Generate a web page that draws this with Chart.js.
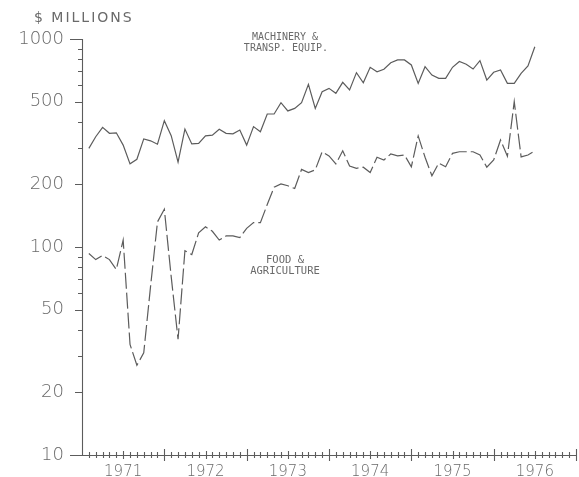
<!DOCTYPE html>
<html>
<head>
<meta charset="utf-8">
<script src="https://cdn.jsdelivr.net/npm/chart.js@4/dist/chart.umd.min.js"></script>
<style>
html,body{margin:0;padding:0;background:#fff;}
#wrap{width:579px;height:477px;position:relative;}
</style>
</head>
<body>
<div id="wrap"><canvas id="c" width="579" height="477"></canvas></div>
<script>
// ---- data ----
const months = [
  '1971-02','1971-03','1971-04','1971-05','1971-06','1971-07','1971-08','1971-09','1971-10','1971-11','1971-12',
  '1972-01','1972-02','1972-03','1972-04','1972-05','1972-06','1972-07','1972-08','1972-09','1972-10','1972-11','1972-12',
  '1973-01','1973-02','1973-03','1973-04','1973-05','1973-06','1973-07','1973-08','1973-09','1973-10','1973-11','1973-12',
  '1974-01','1974-02','1974-03','1974-04','1974-05','1974-06','1974-07','1974-08','1974-09','1974-10','1974-11','1974-12',
  '1975-01','1975-02','1975-03','1975-04','1975-05','1975-06','1975-07','1975-08','1975-09','1975-10','1975-11','1975-12',
  '1976-01','1976-02','1976-03','1976-04','1976-05','1976-06','1976-07'
];
const machinery = [
  298,339,376,352,354,309,251,264,331,324,312,
  405,343,256,369,313,315,342,345,368,352,350,365,
  309,379,358,436,436,494,451,464,494,605,464,558,
  579,548,619,569,689,616,731,696,715,769,793,793,
  750,612,736,671,647,647,731,779,756,717,787,635,
  692,710,612,612,684,742,918
];
const food = [
  93,87,91,87,78,108,34,27,31,65,132,
  152,72,36,96,92,117,125,119,108,113,113,111,
  123,131,131,160,194,201,197,191,236,228,235,287,
  274,251,290,245,239,242,228,270,262,280,274,277,
  243,342,270,220,253,243,282,287,287,287,277,242,
  262,327,273,500,271,277,290
];
const yearLabels = ['1971','1972','1973','1974','1975','1976'];
const yTickValues = [10,20,50,100,200,500,1000];
const yTickLabels = ['10','20','50','100','200','500','1000'];
const unitLabel = '$ MILLIONS';
const machineryLabel = ['MACHINERY &','TRANSP. EQUIP.'];
const foodLabel = ['FOOD &','AGRICULTURE'];

// ---- helpers ----
const firstYear = 1971;
function monthOffset(s){ const p = s.split('-'); return (parseInt(p[0]) - firstYear) * 12 + (parseInt(p[1]) - 1); }
const INK = '#5c5c5c';
const TXT = '#6a6a6a';

const axesPlugin = {
  id: 'plotterAxes',
  afterDraw(chart){
    const ctx = chart.ctx, xs = chart.scales.x, ys = chart.scales.y;
    const left = xs.left, right = xs.right;
    const top = ys.getPixelForValue(1000), bottom = ys.getPixelForValue(10);
    ctx.save();
    ctx.strokeStyle = INK; ctx.lineWidth = 1.1;
    ctx.beginPath();
    ctx.moveTo(left + 0.5, top); ctx.lineTo(left + 0.5, bottom);
    ctx.moveTo(left, bottom + 0.5); ctx.lineTo(right, bottom + 0.5);
    // y ticks
    for (let d = 10; d <= 1000; d *= 10) {
      for (let k = 1; k <= 9; k++) {
        const v = k * d; if (v > 1000) break;
        const py = Math.round(ys.getPixelForValue(v)) + 0.5;
        let len = 4;
        if (yTickValues.includes(v)) len = 7;
        if (v === 1000 || v === 10) len = 12;
        ctx.moveTo(left - len, py); ctx.lineTo(left + 0.5, py);
      }
    }
    // x ticks (monthly)
    for (let m = 1; m <= 72; m++) {
      const px = Math.round(xs.getPixelForValue(m)) + 0.5;
      let h = 3;
      if (m % 12 === 6) h = 4;
      if (m % 12 === 0) h = 6;
      ctx.moveTo(px, bottom - h); ctx.lineTo(px, bottom + h);
    }
    ctx.stroke();

    // texts
    ctx.fillStyle = TXT;
    ctx.textBaseline = 'middle';
    ctx.textAlign = 'left';
    ctx.font = '14px "DejaVu Sans"';
    try { ctx.letterSpacing = '2px'; } catch(e) {}
    ctx.fillText(unitLabel, 34, 18);
    try { ctx.letterSpacing = '0px'; } catch(e) {}
    ctx.textAlign = 'center';
    ctx.font = '10px "DejaVu Sans Mono"';
    ctx.fillText(machineryLabel[0], 285, 37);
    ctx.fillText(machineryLabel[1], 286, 48);
    ctx.font = '10.5px "DejaVu Sans Mono"';
    ctx.fillText(foodLabel[0], 285, 260);
    ctx.fillText(foodLabel[1], 285, 271);
    ctx.restore();
  }
};

new Chart(document.getElementById('c'), {
  type: 'line',
  data: {
    datasets: [
      {
        label: machineryLabel.join(' '),
        data: months.map((m, i) => ({ x: monthOffset(m), y: machinery[i] })),
        borderColor: INK, borderWidth: 1.2, pointRadius: 0, tension: 0, fill: false
      },
      {
        label: foodLabel.join(' '),
        data: months.map((m, i) => ({ x: monthOffset(m), y: food[i] })),
        borderColor: INK, borderWidth: 1.2, pointRadius: 0, tension: 0, fill: false,
        borderDash: [16, 4]
      }
    ]
  },
  options: {
    responsive: false,
    devicePixelRatio: 1,
    animation: false,
    layout: { padding: { top: 39, right: 3, left: 0, bottom: 0 } },
    plugins: { legend: { display: false }, tooltip: { enabled: false } },
    scales: {
      x: {
        type: 'linear', min: 0, max: 72,
        grid: { display: false, drawTicks: false },
        border: { display: false },
        afterBuildTicks: (s) => { s.ticks = yearLabels.map((_, k) => ({ value: 6 + 12 * k })); },
        afterFit: (s) => { s.height = 22; s.paddingLeft = 0; s.paddingRight = 0; },
        ticks: {
          autoSkip: false, maxRotation: 0, padding: 8,
          color: TXT, font: { family: '"DejaVu Sans"', size: 15, weight: '300' },
          callback: (v) => { const k = Math.round((v - 6) / 12); return yearLabels[k] || ''; }
        }
      },
      y: {
        type: 'logarithmic', min: 10, max: 1000, position: 'left',
        grid: { display: false, drawTicks: false },
        border: { display: false },
        afterBuildTicks: (s) => { s.ticks = yTickValues.map(v => ({ value: v })); },
        afterFit: (s) => { s.width = 82; s.paddingTop = 0; s.paddingBottom = 0; },
        ticks: {
          autoSkip: false, padding: 18,
          color: TXT, font: { family: '"DejaVu Sans"', size: 18, weight: '300' },
          callback: (v) => { const k = yTickValues.indexOf(v); return k >= 0 ? yTickLabels[k] : ''; }
        }
      }
    }
  },
  plugins: [axesPlugin]
});
</script>
</body>
</html>
